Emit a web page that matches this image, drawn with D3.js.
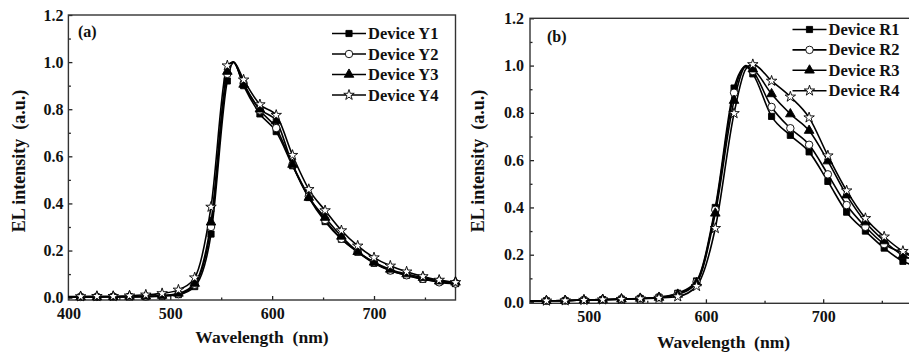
<!DOCTYPE html>
<html>
<head>
<meta charset="utf-8">
<script src="https://cdn.jsdelivr.net/npm/d3@7"></script>
<style>
  body { margin: 0; background: #fff; }
  svg { display: block; font-family: 'Liberation Serif', 'Times New Roman', serif; font-weight: bold; }
</style>
</head>
<body>
<div class="chart"></div>
<script>
let w = 909, h = 352;

// ---- data: panel (a) yellow devices, marker wavelengths every 16 nm ----
const wlA = [400, 412, 428, 444, 460, 476, 492, 508, 524, 540, 556, 562, 572, 588, 604, 620, 636, 652, 668, 684, 700, 716, 732, 748, 764, 780];
const markA = [412, 428, 444, 460, 476, 492, 508, 524, 540, 556, 572, 588, 604, 620, 636, 652, 668, 684, 700, 716, 732, 748, 764, 780];
const y1 = [0.002, 0.002, 0.002, 0.003, 0.003, 0.004, 0.006, 0.013, 0.047, 0.27, 0.92, 1.0, 0.90, 0.78, 0.705, 0.56, 0.425, 0.323, 0.248, 0.193, 0.146, 0.115, 0.095, 0.078, 0.068, 0.06];
const y2 = [0.003, 0.003, 0.003, 0.004, 0.004, 0.005, 0.008, 0.015, 0.055, 0.30, 0.95, 1.0, 0.91, 0.795, 0.72, 0.565, 0.43, 0.33, 0.25, 0.195, 0.15, 0.115, 0.095, 0.08, 0.065, 0.06];
const y3 = [0.003, 0.003, 0.003, 0.004, 0.005, 0.006, 0.009, 0.018, 0.06, 0.32, 0.96, 1.0, 0.905, 0.80, 0.75, 0.565, 0.425, 0.34, 0.26, 0.195, 0.15, 0.12, 0.10, 0.085, 0.07, 0.065];
const y4 = [0.005, 0.005, 0.006, 0.006, 0.008, 0.012, 0.018, 0.033, 0.085, 0.385, 0.985, 1.0, 0.925, 0.82, 0.775, 0.605, 0.46, 0.37, 0.285, 0.22, 0.17, 0.135, 0.11, 0.09, 0.075, 0.065];

// ---- data: panel (b) red devices ----
const wlB = [450, 464, 480, 496, 512, 528, 544, 560, 576, 592, 608, 624, 634, 640, 656, 672, 688, 704, 720, 736, 752, 768, 780];
const markB = [464, 480, 496, 512, 528, 544, 560, 576, 592, 608, 624, 640, 656, 672, 688, 704, 720, 736, 752, 768];
const r1 = [0.004, 0.005, 0.006, 0.008, 0.01, 0.012, 0.015, 0.02, 0.037, 0.089, 0.40, 0.905, 0.995, 0.965, 0.785, 0.705, 0.635, 0.51, 0.38, 0.30, 0.228, 0.172, 0.15];
const r2 = [0.004, 0.005, 0.006, 0.008, 0.01, 0.012, 0.015, 0.02, 0.035, 0.085, 0.39, 0.885, 1.0, 0.977, 0.825, 0.735, 0.665, 0.54, 0.41, 0.318, 0.245, 0.208, 0.185];
const r3 = [0.004, 0.005, 0.006, 0.008, 0.01, 0.012, 0.015, 0.019, 0.032, 0.08, 0.375, 0.852, 0.995, 0.985, 0.88, 0.795, 0.725, 0.596, 0.452, 0.338, 0.258, 0.197, 0.175];
const r4 = [0.004, 0.005, 0.006, 0.008, 0.01, 0.012, 0.014, 0.017, 0.023, 0.067, 0.312, 0.798, 0.985, 1.005, 0.935, 0.868, 0.78, 0.619, 0.471, 0.354, 0.276, 0.215, 0.19];

const namesA = ['Device Y1', 'Device Y2', 'Device Y3', 'Device Y4'];
const namesB = ['Device R1', 'Device R2', 'Device R3', 'Device R4'];
const xTicks = [400, 500, 600, 700];
const xMinor = [450, 550, 650, 750];
const yTicks = [0, 0.2, 0.4, 0.6, 0.8, 1.0, 1.2];
const yMinor = [0.1, 0.3, 0.5, 0.7, 0.9, 1.1];

const symbols = [
  { type: d3.symbolSquare, size: 38, fill: '#000' },
  { type: d3.symbolCircle, size: 44, fill: '#fff' },
  { type: d3.symbolTriangle, size: 40, fill: '#000' },
  { type: d3.symbolStar, size: 34, fill: '#fff' }
];

let svg = d3.select('.chart').append('svg').attr('width', w).attr('height', h);

function buildPanel(opt) {
  let xScale = d3.scaleLinear().domain(opt.xDomain).range(opt.xRange);
  let yScale = d3.scaleLinear().domain(opt.yDomain).range(opt.yRange);
  let g = svg.append('g');
  let left = opt.xRange[0], right = opt.xRange[1];
  let top = opt.yRange[1], bottom = opt.yRange[0];

  /* ==== AXES ===== */
  let xAxis = d3.axisBottom(xScale).tickValues(xTicks.filter(t => t >= opt.xDomain[0]))
    .tickSizeInner(-4).tickSizeOuter(0).tickPadding(7.5).tickFormat(d3.format('d'));
  let xMinorAxis = d3.axisBottom(xScale).tickValues(xMinor.filter(t => t >= opt.xDomain[0]))
    .tickSizeInner(-2.5).tickSizeOuter(0).tickFormat('');
  let yAxis = d3.axisLeft(yScale).tickValues(yTicks)
    .tickSizeInner(-4).tickSizeOuter(0).tickPadding(opt.yPad).tickFormat(d3.format('.1f'));
  let yMinorAxis = d3.axisLeft(yScale).tickValues(yMinor)
    .tickSizeInner(-2.5).tickSizeOuter(0).tickFormat('');

  [xAxis, xMinorAxis].forEach(a => {
    g.append('g').attr('transform', 'translate(0,' + bottom + ')').call(a);
  });
  [yAxis, yMinorAxis].forEach(a => {
    g.append('g').attr('transform', 'translate(' + left + ',0)').call(a);
  });
  g.selectAll('.domain').remove();
  g.selectAll('.tick line').attr('stroke', '#222').attr('stroke-width', 1.3);
  g.selectAll('.tick text').attr('fill', '#111').style('font-size', '16px')
    .style('font-family', "'Liberation Serif', serif").style('font-weight', 'bold');

  // frame
  g.append('rect')
    .attr('x', left).attr('y', top)
    .attr('width', right - left).attr('height', bottom - top)
    .attr('fill', 'none').attr('stroke', '#333').attr('stroke-width', 1.4);

  /* ==== CURVES ===== */
  let line = d3.line()
    .x(function (d) { return xScale(d[0]); })
    .y(function (d) { return yScale(d[1]); })
    .curve(d3.curveMonotoneX);

  opt.series.forEach(function (vals, i) {
    let pts = opt.wl.map((x, k) => [x, vals[k]]);
    g.append('path')
      .datum(pts)
      .attr('d', line)
      .attr('fill', 'none')
      .attr('stroke', '#000')
      .attr('stroke-width', 1.6);
  });
  opt.series.forEach(function (vals, i) {
    let pts = opt.wl.map((x, k) => [x, vals[k]]).filter(d => opt.marks.indexOf(d[0]) >= 0);
    let s = symbols[i];
    g.selectAll('.m' + i + opt.id)
      .data(pts)
      .enter().append('path')
      .attr('transform', d => 'translate(' + xScale(d[0]) + ',' + yScale(d[1]) + ')')
      .attr('d', d3.symbol().type(s.type).size(s.size))
      .attr('fill', s.fill)
      .attr('stroke', '#000')
      .attr('stroke-width', 0.9);
  });

  /* ==== LEGEND ===== */
  opt.names.forEach(function (name, i) {
    let ly = opt.legend.y + i * opt.legend.dy;
    g.append('line')
      .attr('x1', opt.legend.x).attr('x2', opt.legend.x + 34)
      .attr('y1', ly).attr('y2', ly)
      .attr('stroke', '#000').attr('stroke-width', 1.6);
    let s = symbols[i];
    g.append('path')
      .attr('transform', 'translate(' + (opt.legend.x + 17) + ',' + ly + ')')
      .attr('d', d3.symbol().type(s.type).size(s.size))
      .attr('fill', s.fill).attr('stroke', '#000').attr('stroke-width', 0.9);
    g.append('text')
      .text(name)
      .attr('x', opt.legend.x + 36).attr('y', ly + 5.5)
      .attr('font-size', 16.5).attr('fill', '#111');
  });

  /* ==== LABELS ===== */
  g.append('text')
    .text(opt.tag)
    .attr('x', opt.tagX).attr('y', opt.tagY)
    .attr('font-size', 16).attr('fill', '#111');

  g.append('text')
    .text('Wavelength\u00a0\u00a0(nm)')
    .attr('x', (left + right) / 2).attr('y', opt.xTitleY)
    .attr('text-anchor', 'middle')
    .attr('font-size', 17.5).attr('fill', '#111');

  g.append('text')
    .text('EL intensity\u00a0\u00a0(a.u.)')
    .attr('transform', 'translate(' + opt.yTitleX + ',' + opt.yTitleC + ') rotate(-90)')
    .attr('text-anchor', 'middle')
    .attr('font-size', 18).attr('fill', '#111');
}

buildPanel({
  id: 'a',
  xDomain: [400, 780], xRange: [68.4, 455.5],
  yDomain: [-0.01, 1.2], yRange: [300, 15],
  yPad: 5,
  wl: wlA, marks: markA, series: [y1, y2, y3, y4], names: namesA,
  legend: { x: 332, y: 33.5, dy: 20.5 },
  tag: '(a)', tagX: 78, tagY: 36.5,
  xTitleY: 343, yTitleX: 25, yTitleC: 161
});

buildPanel({
  id: 'b',
  xDomain: [450, 780], xRange: [530, 917],
  yDomain: [-0.0055, 1.2], yRange: [303.3, 18.3],
  yPad: 6,
  wl: wlB, marks: markB, series: [r1, r2, r3, r4], names: namesB,
  legend: { x: 792.5, y: 29.5, dy: 20.4 },
  tag: '(b)', tagX: 547, tagY: 42,
  xTitleY: 348, yTitleX: 484, yTitleC: 161
});
</script>
</body>
</html>
